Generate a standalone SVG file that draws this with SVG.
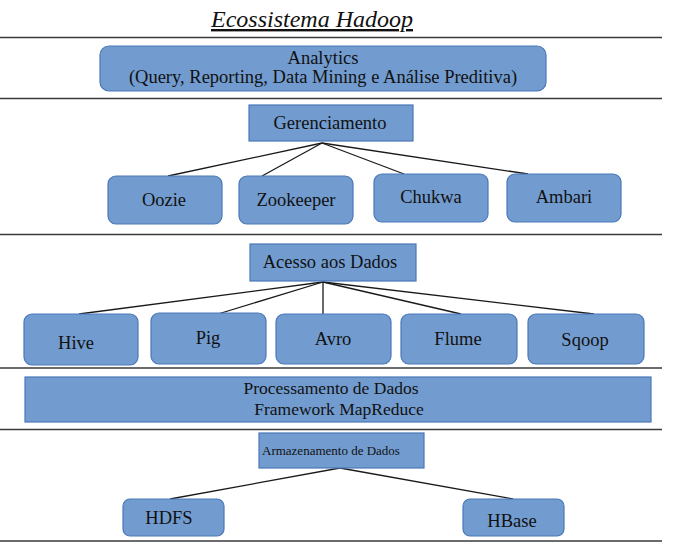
<svg xmlns="http://www.w3.org/2000/svg" width="682" height="546" viewBox="0 0 682 546">
<style>
.bg{fill:#ffffff}
.sep{stroke:#3a3a3a;stroke-width:1.5;fill:none}
.box{fill:#729ccf;stroke:#4a78b8;stroke-width:1.2}
.t{font-family:"Liberation Serif","Times New Roman",serif;font-size:18.5px;fill:#111;text-anchor:middle}
.tp{font-family:"Liberation Serif","Times New Roman",serif;font-size:17.5px;fill:#111;text-anchor:middle}
.ts{font-family:"Liberation Serif","Times New Roman",serif;font-size:13px;fill:#111}
.title{font-family:"Liberation Serif","Times New Roman",serif;font-size:24px;font-style:italic;fill:#111;text-anchor:middle;text-decoration:underline}
.conn line{stroke:#1a1a1a;stroke-width:1.3}
</style>
<rect class="bg" x="0" y="0" width="682" height="546"/>
<text class="title" x="312" y="27">Ecossistema Hadoop</text>
<g id="separators">
<line class="sep" x1="0" y1="37.5" x2="662" y2="37.5"/>
<line class="sep" x1="0" y1="98.5" x2="662" y2="98.5"/>
<line class="sep" x1="0" y1="234.5" x2="662" y2="234.5"/>
<line class="sep" x1="0" y1="368" x2="662" y2="368"/>
<line class="sep" x1="0" y1="429.5" x2="662" y2="429.5"/>
<line class="sep" x1="0" y1="541" x2="662" y2="541"/>
</g>
<g id="connectors" class="conn">
<line x1="322" y1="143" x2="168" y2="176"/>
<line x1="322" y1="143" x2="262" y2="176"/>
<line x1="322" y1="143" x2="404" y2="174"/>
<line x1="322" y1="143" x2="528" y2="174"/>
<line x1="323" y1="282" x2="79" y2="314"/>
<line x1="323" y1="282" x2="218" y2="314"/>
<line x1="323" y1="282" x2="323" y2="314"/>
<line x1="323" y1="282" x2="461" y2="314"/>
<line x1="323" y1="282" x2="594" y2="314"/>
<line x1="340" y1="468" x2="170" y2="499"/>
<line x1="340" y1="468" x2="513" y2="499"/>
</g>
<g id="analytics">
<rect class="box" x="100" y="46" width="446" height="45" rx="9"/>
<text class="t" x="323" y="64">Analytics</text>
<text class="t" x="323" y="83">(Query, Reporting, Data Mining e Análise Preditiva)</text>
</g>
<g id="gerenciamento">
<rect class="box" x="249" y="105" width="164" height="36"/>
<text class="t" x="330" y="129">Gerenciamento</text>
</g>
<g id="oozie">
<rect class="box" x="108" y="176" width="114" height="48" rx="8"/>
<text class="t" x="164" y="206">Oozie</text>
</g>
<g id="zookeeper">
<rect class="box" x="239" y="176" width="114" height="48" rx="8"/>
<text class="t" x="296" y="206">Zookeeper</text>
</g>
<g id="chukwa">
<rect class="box" x="374" y="174" width="114" height="48" rx="8"/>
<text class="t" x="431" y="203">Chukwa</text>
</g>
<g id="ambari">
<rect class="box" x="507" y="174" width="114" height="48" rx="8"/>
<text class="t" x="564" y="203">Ambari</text>
</g>
<g id="acesso">
<rect class="box" x="250" y="244" width="166" height="37"/>
<text class="t" x="330" y="268">Acesso aos Dados</text>
</g>
<g id="hive">
<rect class="box" x="24" y="314" width="114" height="51" rx="8"/>
<text class="t" x="76" y="349">Hive</text>
</g>
<g id="pig">
<rect class="box" x="151" y="313" width="115" height="51" rx="8"/>
<text class="t" x="208" y="344">Pig</text>
</g>
<g id="avro">
<rect class="box" x="276" y="314" width="115" height="50" rx="8"/>
<text class="t" x="333" y="345">Avro</text>
</g>
<g id="flume">
<rect class="box" x="401" y="314" width="116" height="50" rx="8"/>
<text class="t" x="458" y="345">Flume</text>
</g>
<g id="sqoop">
<rect class="box" x="528" y="314" width="116" height="50" rx="8"/>
<text class="t" x="585" y="346">Sqoop</text>
</g>
<g id="processamento">
<rect class="box" x="25" y="377" width="626" height="45"/>
<text class="tp" x="331" y="394">Processamento de Dados</text>
<text class="tp" x="339" y="415">Framework MapReduce</text>
</g>
<g id="armazenamento">
<rect class="box" x="259" y="433" width="165" height="35"/>
<text class="ts" x="262" y="455">Armazenamento de Dados</text>
</g>
<g id="hdfs">
<rect class="box" x="123" y="499" width="101" height="37" rx="7"/>
<text class="t" x="169" y="524">HDFS</text>
</g>
<g id="hbase">
<rect class="box" x="463" y="499" width="101" height="37" rx="7"/>
<text class="t" x="512" y="527">HBase</text>
</g>
</svg>
